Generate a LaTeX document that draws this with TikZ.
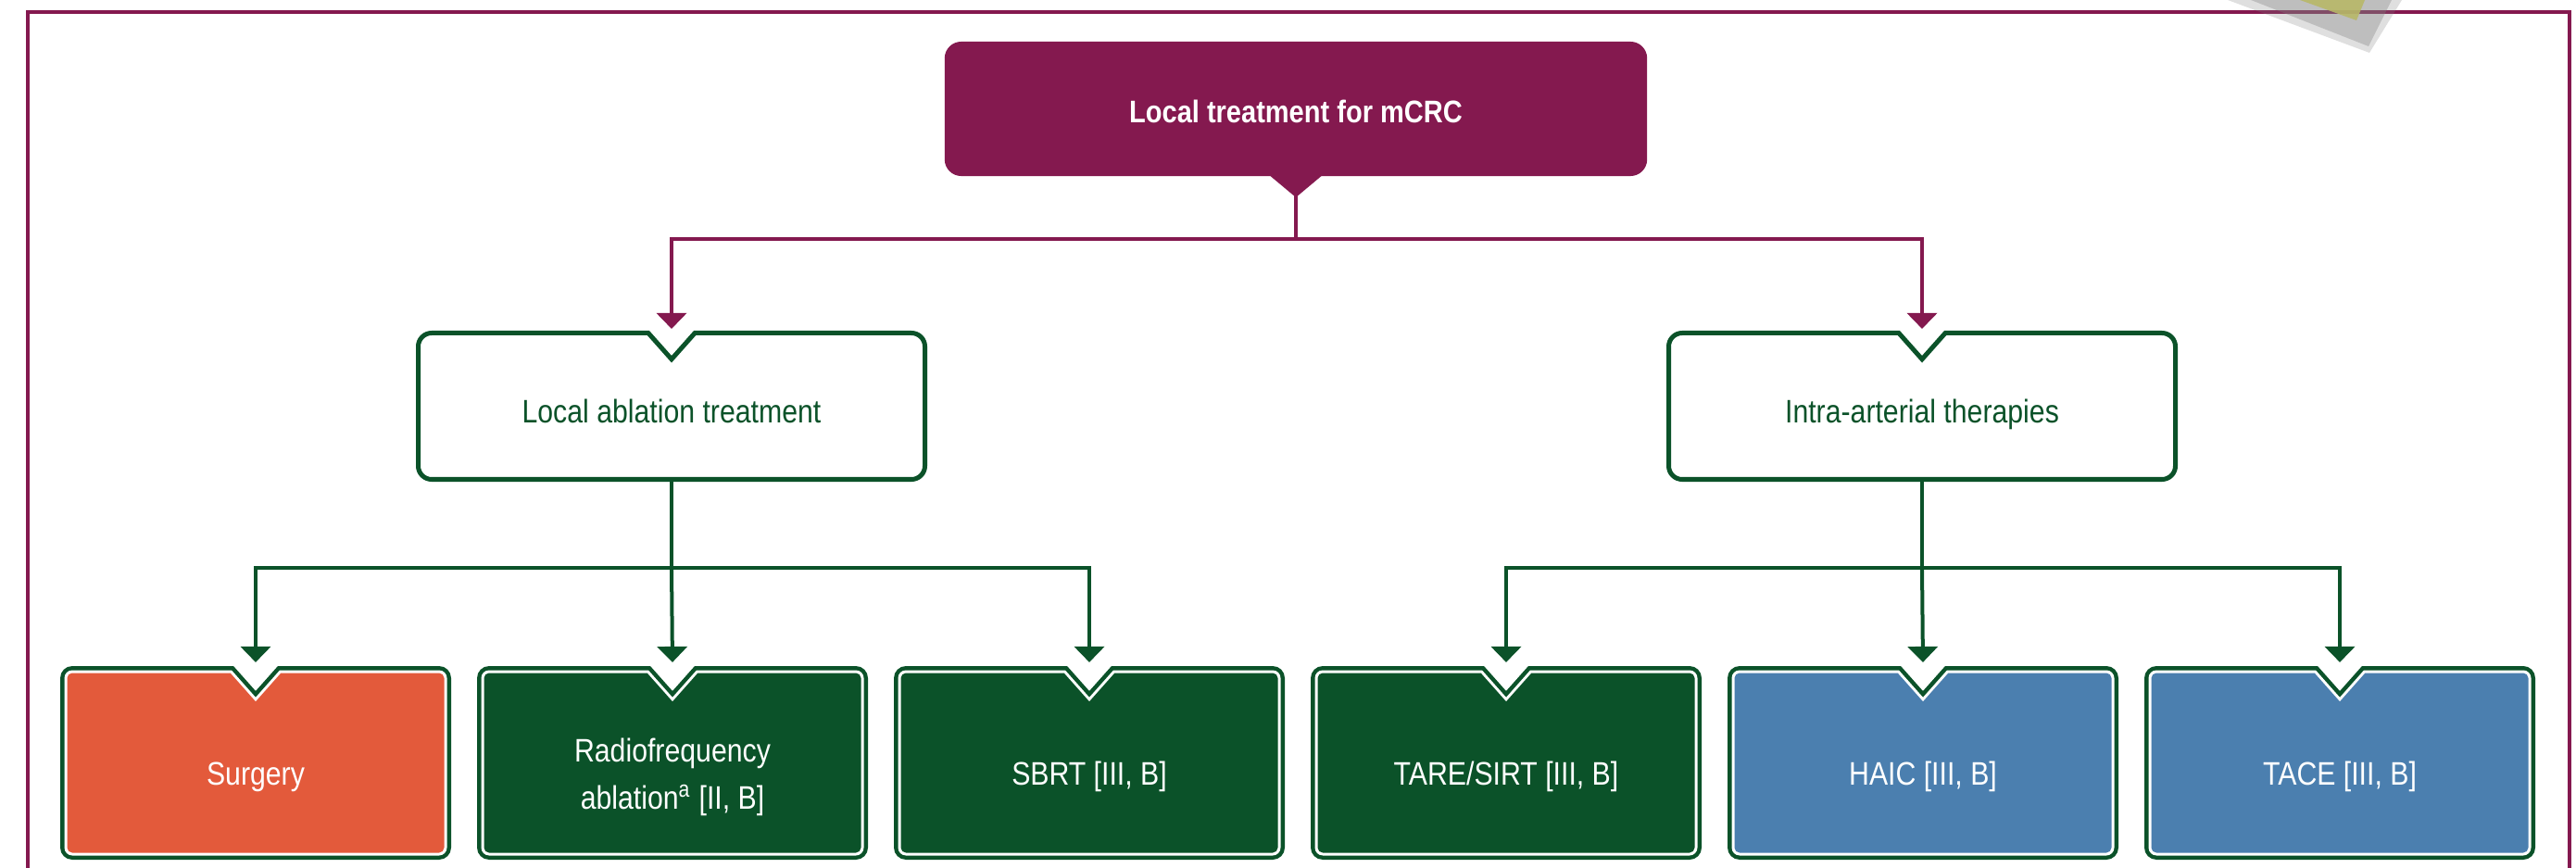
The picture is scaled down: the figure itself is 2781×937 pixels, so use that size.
\documentclass[tikz,border=0pt]{standalone}
\usepackage{fontspec}
\setmainfont[FakeStretch=0.86]{Liberation Sans}
\usetikzlibrary{arrows.meta}

\definecolor{maroon}{RGB}{132,25,79}
\definecolor{dkgreen}{RGB}{11,82,41}
\definecolor{orng}{RGB}{227,90,59}
\definecolor{steel}{RGB}{75,127,175}
\definecolor{tagyellow}{RGB}{183,183,104}

\tikzset{
  pline/.style={maroon, line width=0.04cm},
  parrow/.style={pline, -{Triangle[width=0.32cm,length=0.17cm]}, shorten >=0.02cm},
  gline/.style={dkgreen, line width=0.04cm},
  garrow/.style={gline, -{Triangle[width=0.32cm,length=0.17cm]}, shorten >=0.04cm},
  toptext/.style={fill=maroon, rounded corners=0.18cm, text=white, font=\bfseries\fontsize{9.6}{12}\selectfont,
    minimum width=7.58cm, minimum height=1.45cm, inner sep=0pt, outer sep=0pt,
    text height=10pt, text depth=1.2pt},
  midtext/.style={text=dkgreen, font=\fontsize{10}{13.5}\selectfont,
    minimum width=5.52cm, minimum height=1.63cm, inner sep=0pt, outer sep=0pt,
    text height=12.5pt, text depth=2pt},
  btext/.style={text=white, align=center, font=\fontsize{10}{14.5}\selectfont,
    minimum width=4.22cm, minimum height=2.39cm, inner sep=0pt, outer sep=0pt}
}

% box with a V notch on top: cx, top, width, height, inset, radius, style
\newcommand{\notchshape}[7]{%
  \pgfmathsetmacro{\bl}{#1-#3/2+#5}
  \pgfmathsetmacro{\br}{#1+#3/2-#5}
  \pgfmathsetmacro{\bt}{#2-#5}
  \pgfmathsetmacro{\bb}{#2-#4+#5}
  \pgfmathsetmacro{\rr}{#6-#5}
  \pgfmathsetmacro{\nw}{24+0.45*#5}
  \pgfmathsetmacro{\nt}{#2-27-1.51*#5}
  \path[#7] (#1-\nw,\bt) -- (#1,\nt) -- (#1+\nw,\bt) -- (\br-\rr,\bt)
    arc[start angle=90,end angle=0,radius=\rr] -- (\br,\bb+\rr)
    arc[start angle=0,end angle=-90,radius=\rr] -- (\bl+\rr,\bb)
    arc[start angle=270,end angle=180,radius=\rr] -- (\bl,\bt-\rr)
    arc[start angle=180,end angle=90,radius=\rr] -- cycle;
}

\begin{document}
\begin{tikzpicture}[x=0.01cm, y=0.01cm]
    \useasboundingbox (0,0) rectangle (2781,-937);

    % Frame
    \draw[maroon, line width=0.045cm] (30,-937) -- (30,-13) -- (2774,-13) -- (2774,-937);

    % Corner tag
    \fill[gray, opacity=0.25] (2405,0) -- (2558,-57) -- (2593,0) -- cycle;
    \fill[gray, opacity=0.35] (2430,0) -- (2557,-50) -- (2582,0) -- cycle;
    \fill[tagyellow, opacity=0.9] (2483,0) -- (2544,-22) -- (2553,0) -- cycle;

    % Top node
    \node[toptext] (top) at (1399,-117.5) {Local treatment for mCRC};
    \fill[maroon] ([xshift=-0.275cm]top.south) -- ([yshift=-0.23cm]top.south)
        -- ([xshift=0.275cm]top.south) -- cycle;

    % Second level
    \notchshape{725}{-357}{552}{163}{2.5}{17}{draw=dkgreen, line width=0.05cm, fill=white}
    \notchshape{2075}{-357}{552}{163}{2.5}{17}{draw=dkgreen, line width=0.05cm, fill=white}
    \node[midtext] (lat) at (725,-438.5) {Local ablation treatment};
    \node[midtext] (iat) at (2075,-438.5) {Intra-arterial therapies};

    % Third level
    \foreach \nm/\cx/\col/\txt in {surg/276/orng/Surgery,
        rfa/726/dkgreen/{Radiofrequency\\ablation\textsuperscript{a} [II, B]},
        sbrt/1176/dkgreen/{SBRT [III, B]}, tare/1626/dkgreen/{TARE/SIRT [III, B]},
        haic/2076/steel/{HAIC [III, B]}, tace/2526/steel/{TACE [III, B]}} {
        \notchshape{\cx}{-719}{422}{209}{0}{13}{fill=dkgreen}
        \notchshape{\cx}{-719}{422}{209}{4.5}{13}{fill=white}
        \notchshape{\cx}{-719}{422}{209}{7.5}{13}{fill=\col}
        \node[btext] (\nm) at (\cx,-838.5) {\txt};
    }

    % Connectors
    \path (top.south) ++(0,-68) coordinate (jtop);
    \draw[pline] (top.south) -- (jtop);
    \draw[parrow] (jtop) -| (lat.north);
    \draw[parrow] (jtop) -| (iat.north);

    \path (lat.south) ++(0,-93) coordinate (jlat);
    \draw[gline] (lat.south) -- (jlat);
    \draw[garrow] (jlat) -| (surg.north);
    \draw[garrow] (jlat) -- (rfa.north);
    \draw[garrow] (jlat) -| (sbrt.north);

    \path (iat.south) ++(0,-93) coordinate (jiat);
    \draw[gline] (iat.south) -- (jiat);
    \draw[garrow] (jiat) -| (tare.north);
    \draw[garrow] (jiat) -- (haic.north);
    \draw[garrow] (jiat) -| (tace.north);
\end{tikzpicture}
\end{document}
